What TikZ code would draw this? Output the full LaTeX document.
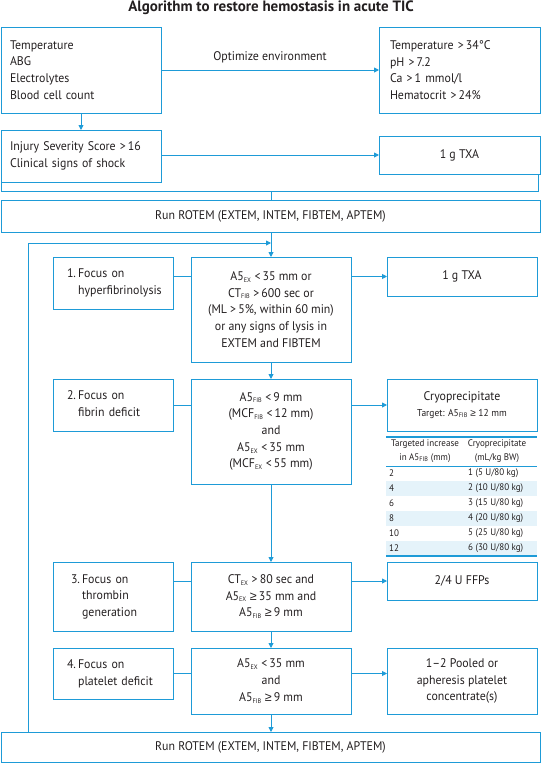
\documentclass[tikz,border=0pt]{standalone}
\usepackage{fontspec}
\setmainfont{PT Sans}[FakeStretch=0.95]
\newfontfamily\titlef{PT Sans}
\newfontfamily\symf{Liberation Sans}
\usetikzlibrary{arrows.meta}
\definecolor{lb}{RGB}{30,155,215}
\definecolor{tx}{RGB}{35,31,32}
\definecolor{shadeb}{RGB}{229,243,250}
\newcommand\sbs[1]{\textsubscript{\fontsize{6.5}{6.5}\selectfont #1}}
\newcommand\geqs{{\symf ≥}}
\tikzset{
  mainfont/.style={font=\fontsize{12.5}{16.7}\selectfont},
  box/.style={draw=lb, line width=0.9pt, rectangle, inner sep=0pt, outer sep=0pt, anchor=north west, text=tx, mainfont},
  conn/.style={draw=lb, line width=0.9pt},
  arr/.style={conn, -{Triangle[width=5pt,length=5pt]}},
  tabtext/.style={text=tx, font=\fontsize{9.5}{14}\selectfont, inner sep=0pt},
}
\begin{document}
\begin{tikzpicture}[x=1pt,y=-1pt]
\useasboundingbox (0,0) rectangle (542,763);
% title
\node[text=tx, font=\titlef\bfseries\fontsize{15}{17}\selectfont] (title) at (271,8) {Algorithm to restore hemostasis in acute TIC};
% top boxes
\node[box, minimum width=160pt, minimum height=86pt, text width=142pt, align=left] (A) at (1,27) {Temperature\\ABG\\Electrolytes\\Blood cell count};
\node[box, minimum width=161pt, minimum height=86pt, text width=139pt, align=left] (B) at (379,27) {Temperature >\,34°C\\pH >\,7.2\\Ca >\,1 mmol/l\\Hematocrit >\,24\%};
\node[box, minimum width=160pt, minimum height=52pt, text width=142pt, align=left] (C) at (1,130) {Injury Severity Score >\,16\\Clinical signs of shock};
\node[box, minimum width=161pt, minimum height=38pt, align=center] (D) at (379,136) {1 g TXA};
\node[box, minimum width=539pt, minimum height=32pt, align=center] (R1) at (1,200) {Run ROTEM (EXTEM, INTEM, FIBTEM, APTEM)};
% row 1
\node[box, minimum width=120pt, minimum height=52pt, text width=92pt, align=left] (L1) at (53,257) {\begin{tabular}{@{}l@{\,}l@{}}1.&Focus on\\&hyperfibrinolysis\end{tabular}};
\node[box, minimum width=160pt, minimum height=105pt, align=center] (C1) at (191,257) {A5\sbs{EX} <\,35 mm or\\CT\sbs{FIB} >\,600 sec or\\(ML >\,5\%, within 60 min)\\or any signs of lysis in\\EXTEM and FIBTEM};
\node[box, minimum width=150pt, minimum height=39pt, align=center] (X1) at (387,257) {1 g TXA};
% row 2
\node[box, minimum width=120pt, minimum height=52pt, text width=92pt, align=left] (L2) at (53,379) {\begin{tabular}{@{}l@{\,}l@{}}2.&Focus on\\&fibrin deficit\end{tabular}};
\node[box, minimum width=160pt, minimum height=105pt, align=center] (C2) at (191,379) {A5\sbs{FIB} <\,9 mm\\(MCF\sbs{FIB} <\,12 mm)\\and\\A5\sbs{EX} <\,35 mm\\(MCF\sbs{EX} <\,55 mm)};
\node[box, minimum width=150pt, minimum height=52pt, align=center] (X2) at (387,379) {Cryoprecipitate\\[-1pt]{\fontsize{10}{12}\selectfont Target: A5\sbs{FIB} \geqs\ 12 mm}};
% table
\fill[shadeb] (386,481) rectangle (537,496);
\fill[shadeb] (386,511) rectangle (537,526);
\fill[shadeb] (386,541) rectangle (537,556);
\draw[lb, line width=1.3pt] (386,437) -- (537,437);
\draw[lb, line width=0.8pt] (386,466) -- (537,466);
\draw[lb, line width=1.2pt] (386,556) -- (537,556);
\node[tabtext, align=center] (th1) at (425,451) {Targeted increase\\in A5\sbs{FIB} (mm)};
\node[tabtext, align=center] (th2) at (497,451) {Cryoprecipitate\\(mL/kg BW)};
\node[tabtext, anchor=west] (t1a) at (389,473.5) {2};
\node[tabtext, anchor=west] (t1b) at (468,473.5) {1 (5 U/80 kg)};
\node[tabtext, anchor=west] (t2a) at (389,488.5) {4};
\node[tabtext, anchor=west] (t2b) at (468,488.5) {2 (10 U/80 kg)};
\node[tabtext, anchor=west] (t3a) at (389,503.5) {6};
\node[tabtext, anchor=west] (t3b) at (468,503.5) {3 (15 U/80 kg)};
\node[tabtext, anchor=west] (t4a) at (389,518.5) {8};
\node[tabtext, anchor=west] (t4b) at (468,518.5) {4 (20 U/80 kg)};
\node[tabtext, anchor=west] (t5a) at (389,533.5) {10};
\node[tabtext, anchor=west] (t5b) at (468,533.5) {5 (25 U/80 kg)};
\node[tabtext, anchor=west] (t6a) at (389,548.5) {12};
\node[tabtext, anchor=west] (t6b) at (468,548.5) {6 (30 U/80 kg)};
% row 3
\node[box, minimum width=120pt, minimum height=69pt, text width=84pt, align=left] (L3) at (53,562) {\begin{tabular}{@{}l@{\,}l@{}}3.&Focus on\\&thrombin\\&generation\end{tabular}};
\node[box, minimum width=160pt, minimum height=69pt, align=center] (C3) at (191,562) {CT\sbs{EX} >\,80 sec and\\A5\sbs{EX} \geqs\,35 mm and\\A5\sbs{FIB} \geqs\,9 mm};
\node[box, minimum width=150pt, minimum height=38pt, align=center] (X3) at (387,562) {2/4 U FFPs};
% row 4
\node[box, minimum width=120pt, minimum height=51pt, text width=92pt, align=left] (L4) at (53,648) {\begin{tabular}{@{}l@{\,}l@{}}4.&Focus on\\&platelet deficit\end{tabular}};
\node[box, minimum width=160pt, minimum height=66pt, align=center] (C4) at (191,648) {A5\sbs{EX} <\,35 mm\\and\\A5\sbs{FIB} \geqs\,9 mm};
\node[box, minimum width=150pt, minimum height=66pt, align=center] (X4) at (387,648) {1–2 Pooled or\\apheresis platelet\\concentrate(s)};
\node[box, minimum width=539pt, minimum height=30pt, align=center] (R2) at (1,732) {Run ROTEM (EXTEM, INTEM, FIBTEM, APTEM)};
% connectors top
\draw[arr] (A.east) -- (A.east -| B.west) node[midway, above=3pt, text=tx, mainfont] (opt) {Optimize environment};
\draw[arr] (A.south) -- (C.north);
\draw[arr] (C.east |- D.west) -- (D.west);
\coordinate (brk) at (271,191);
\coordinate (brr) at (538,191);
\draw[conn] (C.south west) -- (C.south west |- brk) -- (brr) -- (brr |- D.south);
\draw[conn] (brk) -- (brk |- R1.north);
\draw[arr] (R1.south -| C1.north) -- (C1.north);
\coordinate (lp) at (28,243);
\draw[arr] (R2.north -| lp) -- (lp) -- (lp -| C1.north);
% row connectors
\draw[conn] (X1.west -| L1.east) -- (X1.west -| C1.west);
\draw[arr] (X1.west -| C1.east) -- (X1.west);
\draw[conn] (L2.east) -- (L2.east -| C2.west);
\draw[arr] (L2.east -| C2.east) -- (L2.east -| X2.west);
\draw[conn] (X3.west -| L3.east) -- (X3.west -| C3.west);
\draw[arr] (X3.west -| C3.east) -- (X3.west);
\draw[conn] (L4.east) -- (L4.east -| C4.west);
\draw[arr] (L4.east -| C4.east) -- (L4.east -| X4.west);
% vertical flow
\draw[arr] (C1.south) -- (C2.north);
\draw[arr] (C2.south) -- (C3.north);
\draw[arr] (C3.south) -- (C4.north);
\draw[arr] (C4.south) -- (C4.south |- R2.north);
\end{tikzpicture}
\end{document}
